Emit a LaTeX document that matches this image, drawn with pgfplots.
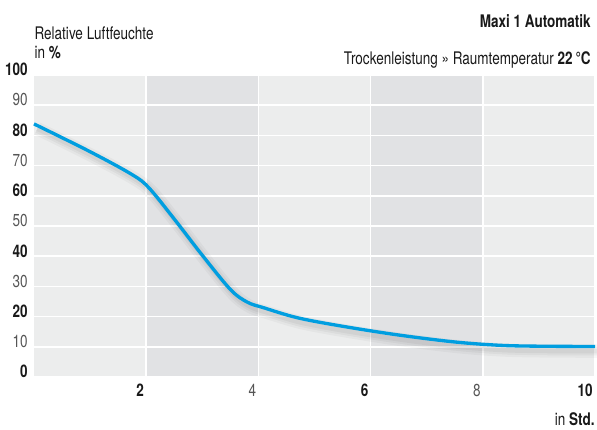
\documentclass[border=0pt]{standalone}
\usepackage{fontspec}
\setmainfont{TeX Gyre Heros}[FakeStretch=0.78]
\usepackage{pgfplots}
\pgfplotsset{compat=1.18}
\definecolor{bandA}{RGB}{236,237,237}
\definecolor{bandB}{RGB}{225,226,228}
\definecolor{curve}{RGB}{0,158,224}
\definecolor{lab}{RGB}{85,85,85}
\definecolor{ink}{RGB}{25,25,25}
\begin{document}
\fontsize{13}{15}\selectfont
\begin{tikzpicture}
\begin{axis}[
  at={(0,0)}, anchor=south west,
  scale only axis, width=420.75pt, height=226.5pt,
  xmin=0, xmax=10, ymin=0, ymax=100,
  set layers,
  axis line style={draw=none}, tick style={draw=none},
  grid=major, major grid style={white, line width=1.1pt},
  xtick={2,4,6,8,10},
  xticklabels={\textbf{2},{\color{lab}4},\textbf{6},{\color{lab}8},\textbf{10}},
  ytick={0,10,...,100},
  yticklabels={\textbf{0},{\color{lab}10},\textbf{20},{\color{lab}30},\textbf{40},{\color{lab}50},\textbf{60},{\color{lab}70},\textbf{80},{\color{lab}90},\textbf{100}},
  xticklabel style={anchor=north east, inner sep=0pt, yshift=-5.25pt, xshift=-1.5pt, text=ink},
  yticklabel style={anchor=east, inner sep=0pt, xshift=-4.5pt, yshift=4pt, text=ink},
  clip=false,
]
\addplot[on layer=axis background, fill=bandA, draw=none] coordinates {(0,100)(2,100)} \closedcycle;
\addplot[on layer=axis background, fill=bandB, draw=none] coordinates {(2,100)(4,100)} \closedcycle;
\addplot[on layer=axis background, fill=bandA, draw=none] coordinates {(4,100)(6,100)} \closedcycle;
\addplot[on layer=axis background, fill=bandB, draw=none] coordinates {(6,100)(8,100)} \closedcycle;
\addplot[on layer=axis background, fill=bandA, draw=none] coordinates {(8,100)(10,100)} \closedcycle;
\pgfplotstableread{
x y
0 83.8
1 74.6
1.75 67.0
2.05 62.6
2.5 52.3
3 40.3
3.5 29.0
3.8 24.8
4.1 22.9
4.7 19.6
5.5 16.8
6.5 13.9
7.5 11.6
8.3 10.5
9.0 10.2
10 10.1
}\curvedata
\addplot[black, opacity=0.03, line width=10pt, smooth, tension=0.55, xshift=2.5pt, yshift=-3.5pt] table {\curvedata};
\addplot[black, opacity=0.04, line width=6.5pt, smooth, tension=0.55, xshift=2.5pt, yshift=-3.5pt] table {\curvedata};
\addplot[black, opacity=0.045, line width=3.5pt, smooth, tension=0.55, xshift=2.5pt, yshift=-3.5pt] table {\curvedata};
\addplot[curve, line width=2.5pt, smooth, tension=0.55] table {\curvedata};
\end{axis}
\begin{scope}[x=0.75pt,y=0.75pt]
\node[anchor=base west, inner sep=0pt, text=ink] at (0.3,337.7) {Relative Luftfeuchte};
\node[anchor=base west, inner sep=0pt, text=ink] at (0.3,318.7) {in \textbf{\%}};
\node[anchor=base east, inner sep=0pt, text=ink] at (557,349.7) {\textbf{Maxi 1 Automatik}};
\node[anchor=base east, inner sep=0pt, text=ink] at (557,312) {Trockenleistung » Raumtemperatur \textbf{22\,°C}};
\node[anchor=base east, inner sep=0pt, text=ink] at (561,-48) {in \textbf{Std.}};
\pgfresetboundingbox
\path[use as bounding box] (-34,-52) rectangle (563,377);
\end{scope}
\end{tikzpicture}
\end{document}
